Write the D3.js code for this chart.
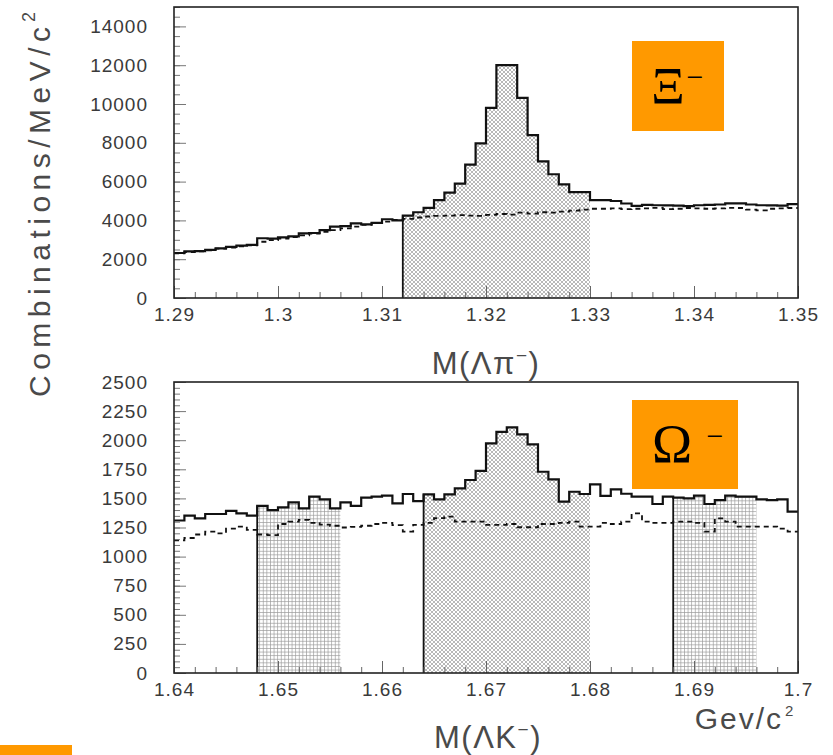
<!DOCTYPE html>
<html>
<head>
<meta charset="utf-8">
<script src="https://cdn.jsdelivr.net/npm/d3@7"></script>
<style>
  html, body { margin: 0; padding: 0; background: #fff; }
  svg { display: block; }
</style>
</head>
<body>
<svg id="chart" width="833" height="755"></svg>
<script>
// ---------- DATA ----------
// Top panel: M(Λπ−), 1 MeV bins starting at 1.290 GeV
const xiStart = 1.290;
const xiBin = 0.001;
const xiTotal = [2320, 2400, 2420, 2480, 2560, 2640, 2700, 2740, 3080, 3060,
  3120, 3180, 3330, 3350, 3500, 3680, 3700, 3850, 3800, 3870,
  4060, 4000, 4250, 4420, 4650, 5050, 5430, 5900, 6870, 7970,
  9800, 12000, 12000, 10320, 8400, 7040, 6380, 5860, 5460, 5460,
  5040, 5040, 5000, 4870, 4750, 4800, 4780, 4770, 4760, 4740,
  4780, 4800, 4820, 4880, 4880, 4820, 4780, 4770, 4760, 4840];
const xiBackground = [2300, 2360, 2400, 2460, 2540, 2600, 2660, 2720, 2900, 2980,
  3060, 3140, 3230, 3320, 3410, 3500, 3590, 3680, 3770, 3860,
  3940, 4020, 4080, 4150, 4200, 4230, 4250, 4270, 4250, 4230,
  4280, 4330, 4300, 4400, 4350, 4420, 4400, 4450, 4500, 4560,
  4600, 4600, 4620, 4580, 4600, 4620, 4650, 4580, 4600, 4640,
  4620, 4600, 4620, 4650, 4640, 4560, 4520, 4600, 4620, 4640];
const xiSignal = [1.312, 1.330];
const xiXTicks = [1.29, 1.30, 1.31, 1.32, 1.33, 1.34, 1.35];
const xiYTicks = [0, 2000, 4000, 6000, 8000, 10000, 12000, 14000];
const xiYMax = 15000;

// Bottom panel: M(ΛK−), 1 MeV bins starting at 1.640 GeV
const omStart = 1.640;
const omBin = 0.001;
const omTotal = [1310, 1352, 1329, 1366, 1366, 1392, 1372, 1352, 1435, 1400,
  1423, 1466, 1415, 1515, 1492, 1415, 1466, 1435, 1506, 1515,
  1523, 1458, 1538, 1477, 1535, 1492, 1535, 1586, 1658, 1737,
  1972, 2072, 2110, 2050, 1964, 1729, 1663, 1472, 1557, 1538,
  1621, 1521, 1578, 1540, 1515, 1515, 1452, 1515, 1506, 1500,
  1523, 1452, 1486, 1523, 1515, 1515, 1492, 1486, 1492, 1386];
const omBackground = [1140, 1160, 1190, 1215, 1200, 1240, 1257, 1230, 1190, 1185,
  1280, 1300, 1315, 1290, 1275, 1265, 1250, 1255, 1265, 1280,
  1290, 1270, 1215, 1272, 1290, 1330, 1343, 1300, 1300, 1300,
  1272, 1272, 1280, 1252, 1252, 1280, 1280, 1290, 1300, 1258,
  1258, 1290, 1280, 1300, 1372, 1300, 1290, 1290, 1300, 1300,
  1290, 1215, 1329, 1300, 1257, 1257, 1257, 1257, 1240, 1215];
const omSidebandLeft = [1.648, 1.656];
const omSignal = [1.664, 1.680];
const omSidebandRight = [1.688, 1.696];
const omXTicks = [1.64, 1.65, 1.66, 1.67, 1.68, 1.69, 1.70];
const omYTicks = [0, 250, 500, 750, 1000, 1250, 1500, 1750, 2000, 2250, 2500];
const omYMax = 2500;

// ---------- DRAW ----------
const svg = d3.select("#chart");
const defs = svg.append("defs");

const xh = defs.append("pattern").attr("id", "crosshatch")
  .attr("patternUnits", "userSpaceOnUse").attr("width", 4).attr("height", 4);
xh.append("rect").attr("width", 4).attr("height", 4).attr("fill", "#fff");
xh.append("path").attr("d", "M0,0 L4,4 M4,0 L0,4")
  .attr("stroke", "#a0a0a0").attr("stroke-width", 0.75).attr("fill", "none");

const gr = defs.append("pattern").attr("id", "grid")
  .attr("patternUnits", "userSpaceOnUse").attr("width", 3.6).attr("height", 3.6);
gr.append("rect").attr("width", 3.6).attr("height", 3.6).attr("fill", "#fff");
gr.append("path").attr("d", "M0,0.3 H3.6 M0.3,0 V3.6")
  .attr("stroke", "#9a9a9a").attr("stroke-width", 0.8).attr("fill", "none");

const fmtX = d => String(+d.toFixed(2));
const tickFont = "'Liberation Sans', Arial, Helvetica, sans-serif";

function panel(cfg) {
  const x = d3.scaleLinear().domain(cfg.xDomain).range([174, 798]);
  const y = d3.scaleLinear().domain([0, cfg.yMax]).range([cfg.bottom, cfg.top]);
  const g = svg.append("g");

  const pts = (vals) => {
    const p = vals.map((v, i) => [cfg.start + i * cfg.bin, v]);
    p.push([cfg.start + vals.length * cfg.bin, vals[vals.length - 1]]);
    return p;
  };
  const totalPts = pts(cfg.total);
  const bgPts = pts(cfg.background);

  const area = d3.area().curve(d3.curveStepAfter)
    .x(d => x(d[0])).y0(y(0)).y1(d => y(d[1]));

  // shaded regions
  cfg.regions.forEach(r => {
    const [a, b] = r.range;
    const seg = [];
    cfg.total.forEach((v, i) => {
      const x0 = cfg.start + i * cfg.bin;
      if (x0 >= a - 1e-9 && x0 < b - 1e-9) seg.push([x0, v]);
    });
    seg.push([b, seg[seg.length - 1][1]]);
    g.append("path").attr("d", area(seg)).attr("fill", `url(#${r.pattern})`);
    const idx = Math.round((a - cfg.start) / cfg.bin);
    g.append("line")
      .attr("x1", x(a)).attr("x2", x(a))
      .attr("y1", y(0)).attr("y2", y(cfg.total[idx]))
      .attr("stroke", "#111").attr("stroke-width", 1.8);
  });

  const line = d3.line().curve(d3.curveStepAfter).x(d => x(d[0])).y(d => y(d[1]));

  g.append("path").attr("d", line(bgPts))
    .attr("fill", "none").attr("stroke", "#111").attr("stroke-width", 1.8)
    .attr("stroke-dasharray", "5,4");
  g.append("path").attr("d", line(totalPts))
    .attr("fill", "none").attr("stroke", "#111").attr("stroke-width", 2.2);

  // axes
  const minorX = d3.range(0, 31).map(i => cfg.xDomain[0] + i * 0.002);
  g.append("g").attr("transform", `translate(0,${cfg.bottom})`)
    .call(d3.axisBottom(x).tickValues(minorX).tickSizeInner(-6).tickSizeOuter(0).tickFormat(""))
    .call(s => s.select(".domain").remove())
    .call(s => s.selectAll("line").attr("stroke", "#666").attr("stroke-width", 1));
  g.append("g").attr("transform", `translate(0,${cfg.bottom})`)
    .call(d3.axisBottom(x).tickValues(cfg.xTicks).tickSizeInner(-12).tickSizeOuter(0)
      .tickPadding(10).tickFormat(fmtX))
    .call(s => s.select(".domain").remove())
    .call(s => s.selectAll("line").attr("stroke", "#666").attr("stroke-width", 1))
    .call(s => s.selectAll("text").attr("font-family", tickFont).attr("font-size", 19)
      .attr("fill", "#3a3a3a").attr("letter-spacing", 1));

  const minorY = d3.range(0, cfg.yMax + 1e-6, cfg.yMinor);
  g.append("g").attr("transform", `translate(174,0)`)
    .call(d3.axisLeft(y).tickValues(minorY).tickSizeInner(-6).tickSizeOuter(0).tickFormat(""))
    .call(s => s.select(".domain").remove())
    .call(s => s.selectAll("line").attr("stroke", "#777").attr("stroke-width", 1));
  g.append("g").attr("transform", `translate(174,0)`)
    .call(d3.axisLeft(y).tickValues(cfg.yTicks).tickSizeInner(-12).tickSizeOuter(0)
      .tickPadding(26).tickFormat(d3.format("d")))
    .call(s => s.select(".domain").remove())
    .call(s => s.selectAll("line").attr("stroke", "#777").attr("stroke-width", 1))
    .call(s => s.selectAll("text").attr("font-family", tickFont).attr("font-size", 19)
      .attr("fill", "#3a3a3a").attr("letter-spacing", 1));

  // frame
  g.append("rect").attr("x", 174).attr("y", cfg.top)
    .attr("width", 798 - 174).attr("height", cfg.bottom - cfg.top)
    .attr("fill", "none").attr("stroke", "#222").attr("stroke-width", 1.6);
  return { x, y, g };
}

panel({
  xDomain: [1.29, 1.35], start: xiStart, bin: xiBin, total: xiTotal, background: xiBackground,
  yMax: xiYMax, yMinor: 500, top: 7, bottom: 298, xTicks: xiXTicks, yTicks: xiYTicks,
  regions: [{ range: xiSignal, pattern: "crosshatch" }]
});

panel({
  xDomain: [1.64, 1.70], start: omStart, bin: omBin, total: omTotal, background: omBackground,
  yMax: omYMax, yMinor: 50, top: 382, bottom: 673, xTicks: omXTicks, yTicks: omYTicks,
  regions: [
    { range: omSidebandLeft, pattern: "grid" },
    { range: omSignal, pattern: "crosshatch" },
    { range: omSidebandRight, pattern: "grid" }
  ]
});

// axis titles
const labelFont = "'Liberation Sans', Arial, Helvetica, sans-serif";
const t1 = svg.append("text").attr("x", 486).attr("y", 374).attr("text-anchor", "middle")
  .attr("font-family", labelFont).attr("font-size", 31).attr("fill", "#4a4a4a")
  .attr("letter-spacing", 1.5);
t1.append("tspan").text("M(Λπ");
t1.append("tspan").attr("font-size", 19).attr("dy", -12).text("−");
t1.append("tspan").attr("dy", 12).text(")");

const t2 = svg.append("text").attr("x", 488).attr("y", 748).attr("text-anchor", "middle")
  .attr("font-family", labelFont).attr("font-size", 31).attr("fill", "#4a4a4a")
  .attr("letter-spacing", 1.5);
t2.append("tspan").text("M(ΛK");
t2.append("tspan").attr("font-size", 19).attr("dy", -12).text("−");
t2.append("tspan").attr("dy", 12).text(")");

svg.append("text").attr("x", 783).attr("y", 729).attr("text-anchor", "end")
  .attr("font-family", labelFont).attr("font-size", 30).attr("fill", "#4a4a4a")
  .attr("letter-spacing", 2).text("Gev/c");
svg.append("text").attr("x", 785).attr("y", 716)
  .attr("font-family", labelFont).attr("font-size", 15).attr("fill", "#4a4a4a").text("2");

svg.append("text").attr("transform", "translate(50,397) rotate(-90)")
  .attr("font-family", labelFont).attr("font-size", 30).attr("fill", "#4a4a4a")
  .attr("textLength", 370).attr("lengthAdjust", "spacing")
  .text("Combinations/MeV/c");
svg.append("text").attr("transform", "translate(35,22) rotate(-90)")
  .attr("font-family", labelFont).attr("font-size", 18).attr("fill", "#4a4a4a").text("2");

// particle labels
const orange = "#ff9900";
const serif = "'Liberation Serif', 'Times New Roman', serif";
svg.append("rect").attr("x", 632).attr("y", 41).attr("width", 92).attr("height", 90).attr("fill", orange);
svg.append("text").attr("x", 668).attr("y", 104).attr("text-anchor", "middle")
  .attr("font-family", serif).attr("font-size", 52).attr("fill", "#000").text("Ξ");
svg.append("text").attr("x", 695).attr("y", 87).attr("text-anchor", "middle")
  .attr("font-family", serif).attr("font-size", 30).attr("fill", "#000").text("−");

svg.append("rect").attr("x", 632).attr("y", 400).attr("width", 106).attr("height", 89).attr("fill", orange);
svg.append("text").attr("x", 672).attr("y", 462).attr("text-anchor", "middle")
  .attr("font-family", serif).attr("font-size", 54).attr("fill", "#000").text("Ω");
svg.append("text").attr("x", 715).attr("y", 446).attr("text-anchor", "middle")
  .attr("font-family", serif).attr("font-size", 30).attr("fill", "#000").text("−");

svg.append("rect").attr("x", 0).attr("y", 745).attr("width", 72).attr("height", 10).attr("fill", orange);
</script>
</body>
</html>
